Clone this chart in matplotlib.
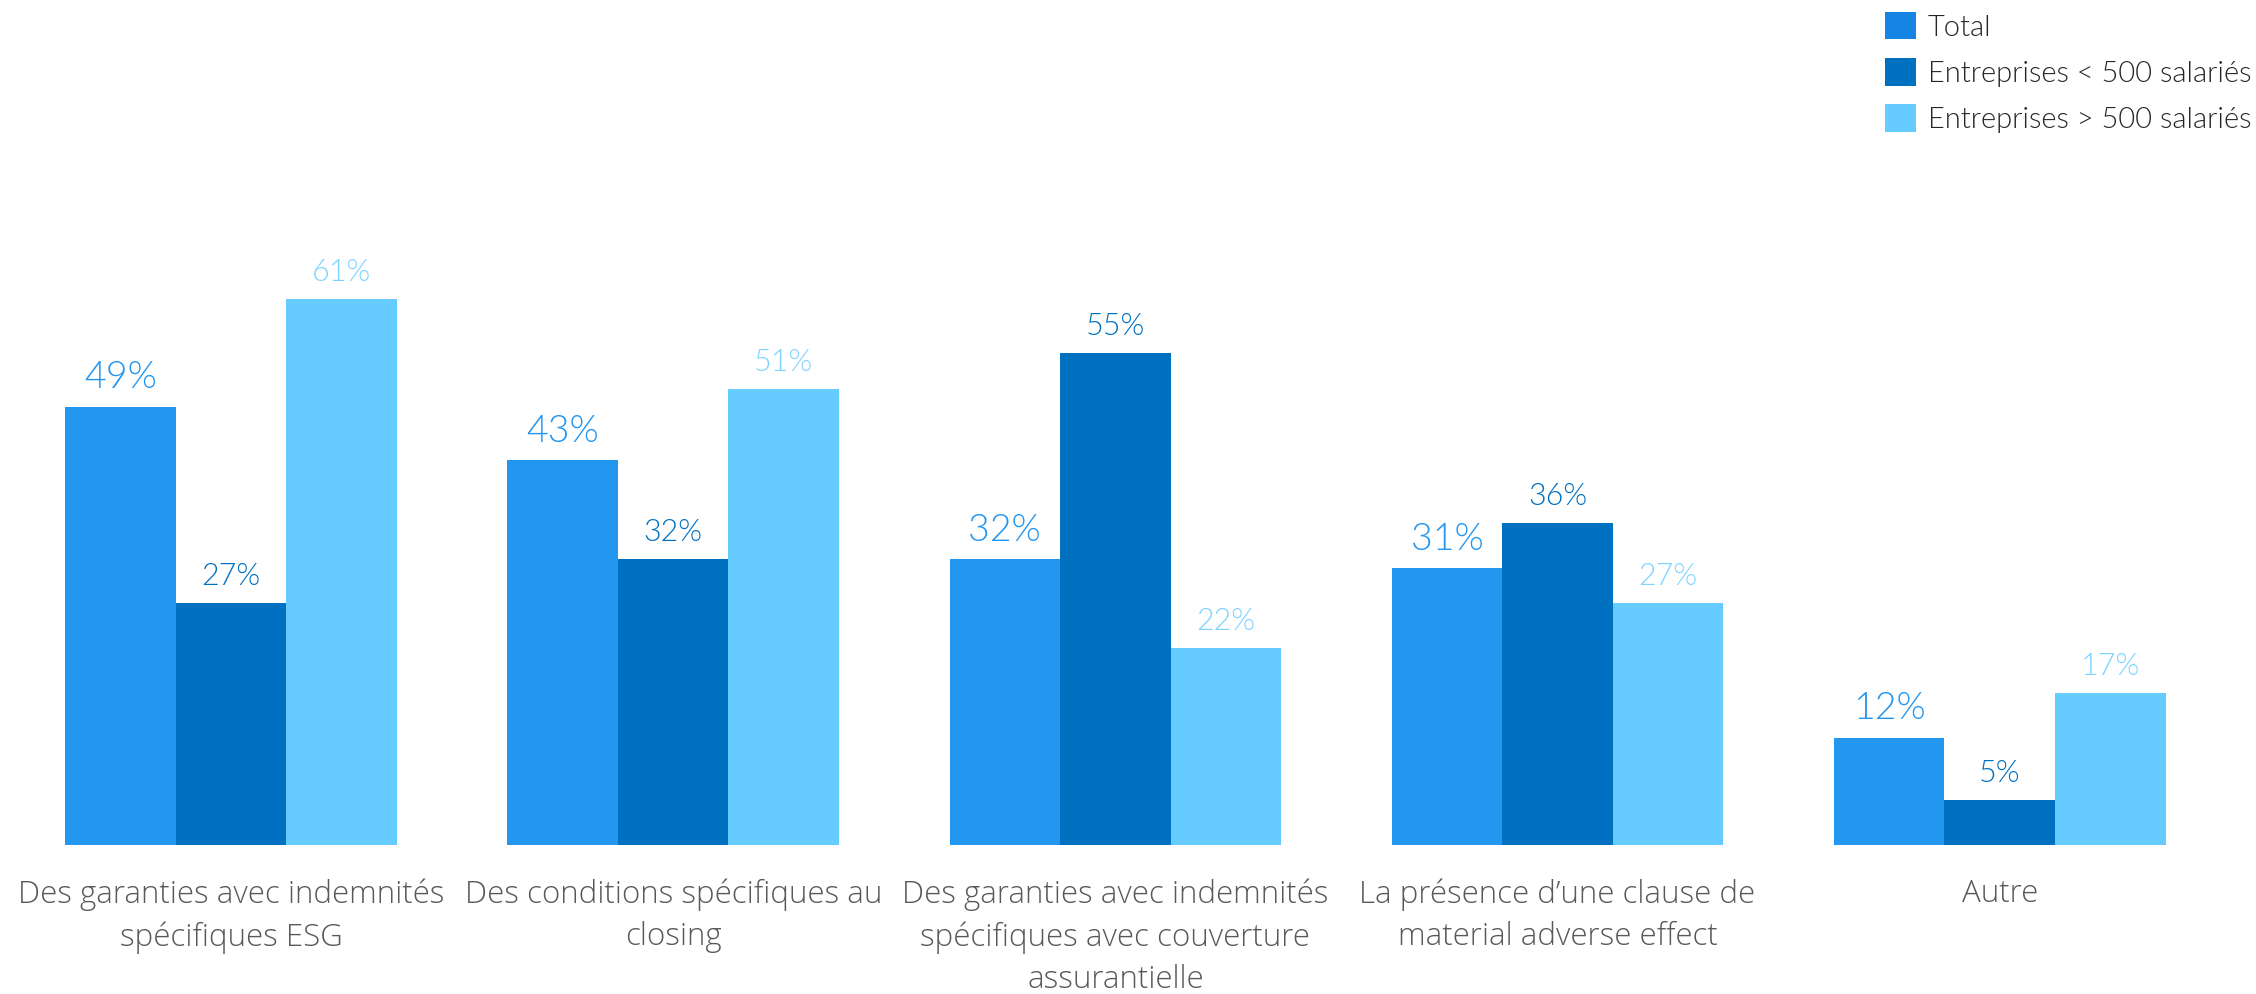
import numpy as np
import matplotlib
matplotlib.use("Agg")
import matplotlib.pyplot as plt
from matplotlib import font_manager
from matplotlib.font_manager import FontProperties
from matplotlib.patches import Patch

# survey answers, share of respondents (%)
categories = [
    "Des garanties avec indemnités\nspécifiques ESG",
    "Des conditions spécifiques au\nclosing",
    "Des garanties avec indemnités\nspécifiques avec couverture\nassurantielle",
    "La présence d\u2019une clause de\nmaterial adverse effect",
    "Autre",
]
series_names = ["Total", "Entreprises < 500 salariés", "Entreprises > 500 salariés"]
total = [49, 43, 32, 31, 12]
small_firms = [27, 32, 55, 36, 5]
large_firms = [61, 51, 22, 27, 17]

bar_colors = ["#2396EF", "#0070C0", "#66CBFF"]
label_colors = ["#2396EF", "#0070C0", "#7FD4FF"]
legend_colors = ["#1684E3", "#0070C0", "#66CCFF"]
label_sizes = [27, 22, 22]


def light_font(family, file_key):
    """Return FontProperties for the light cut of a family, by file name if found."""
    for f in font_manager.fontManager.ttflist:
        name = f.fname.replace(" ", "").replace("_", "-").lower()
        if f.name == family and file_key in name and "italic" not in name:
            return FontProperties(fname=f.fname)
    return FontProperties(family=family)


lato_light = light_font("Lato", "-light.")
open_light = light_font("Open Sans", "-light.")

fig = plt.figure(figsize=(22.56, 9.94), dpi=100)
ax = fig.add_axes([0.0044, 0.150, 0.980, 0.630])

x = np.arange(len(categories))
width = 0.25
for i, (vals, col) in enumerate(zip([total, small_firms, large_firms], bar_colors)):
    pos = x + (i - 1) * width
    ax.bar(pos, vals, width=width, color=col, edgecolor="none")
    for px, v in zip(pos, vals):
        ax.annotate(f"{v}%", (px, v), xytext=(0, 13), textcoords="offset points",
                    ha="center", va="baseline", fontproperties=lato_light,
                    fontsize=label_sizes[i], color=label_colors[i])

ax.set_xlim(-0.5, len(categories) - 0.5)
ax.set_ylim(0, 70)
ax.set_yticks([])
ax.set_xticks(x)
ax.set_xticklabels(categories, fontproperties=open_light, fontsize=22.5,
                   color="#595959", linespacing=1.42)
ax.tick_params(axis="x", length=0, pad=24)
for s in ax.spines.values():
    s.set_visible(False)

leg_prop = lato_light.copy()
leg_prop.set_size(21)
handles = [Patch(facecolor=c, edgecolor="none") for c in legend_colors]
leg = fig.legend(handles, series_names, loc="upper right",
                 bbox_to_anchor=(0.998, 0.988), frameon=False, prop=leg_prop,
                 handlelength=1.07, handleheight=1.07, handletextpad=0.4,
                 labelspacing=0.6, borderpad=0, borderaxespad=0)
for t in leg.get_texts():
    t.set_color("#262626")

fig.savefig("out.png", dpi=100, facecolor="white")
